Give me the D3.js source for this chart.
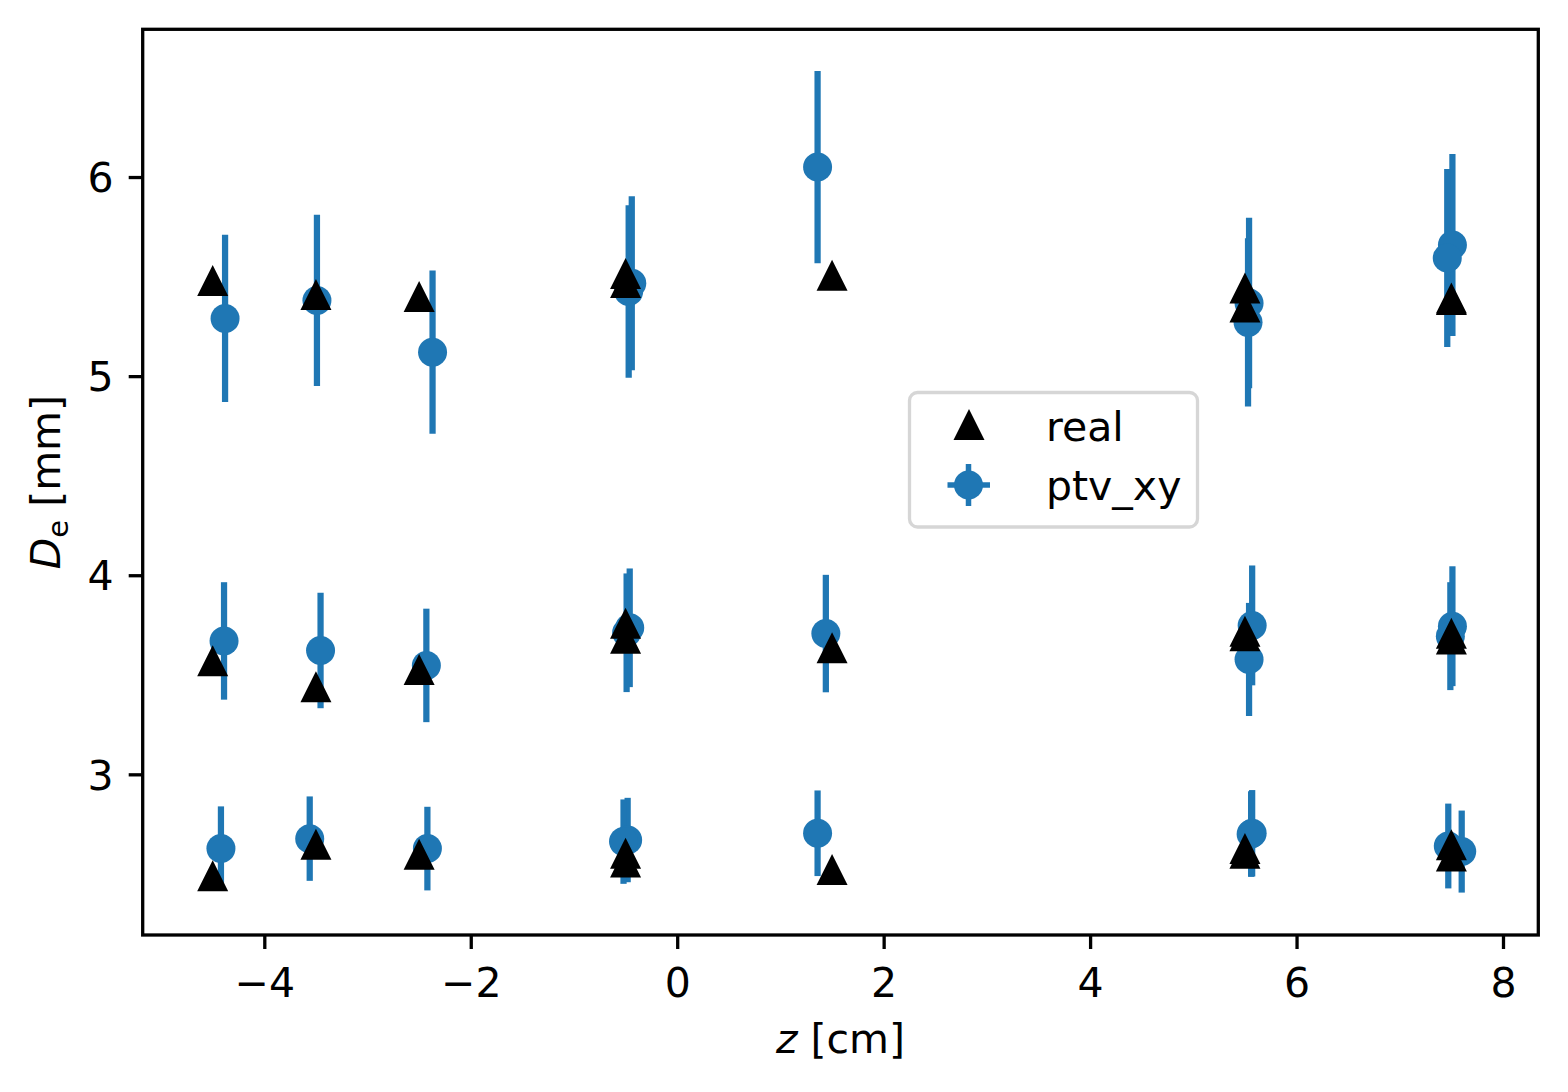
<!DOCTYPE html>
<html>
<head>
<meta charset="utf-8">
<script src="https://cdn.jsdelivr.net/npm/d3@7"></script>
<style>
  body { margin: 0; background: #fff; }
  text { font-family: "DejaVu Sans", sans-serif; }
</style>
</head>
<body>
<div id="chart"></div>
<script>
// real values (triangles), three size groups
const realZ = [-4.5, -3.5, -2.5, -0.5, -0.5, 1.5, 5.5, 5.5, 7.5, 7.5,
               -4.5, -3.5, -2.5, -0.5, -0.5, 1.5, 5.5, 5.5, 7.5, 7.5,
               -4.5, -3.5, -2.5, -0.5, -0.5, 1.5, 5.5, 5.5, 7.5, 7.5];
const realD = [5.48, 5.41, 5.40, 5.515, 5.47, 5.507, 5.443, 5.347, 5.392, 5.385,
               3.57, 3.44, 3.527, 3.759, 3.684, 3.636, 3.719, 3.696, 3.708, 3.68,
               2.49, 2.649, 2.599, 2.604, 2.56, 2.522, 2.628, 2.604, 2.646, 2.59];

// ptv_xy estimates with error
const ptvZ = [-4.38, -3.49, -2.37, -0.44, -0.47, 1.36, 5.54, 5.53, 7.51, 7.46,
              -4.39, -3.455, -2.43, -0.46, -0.49, 1.44, 5.57, 5.54, 7.51, 7.49,
              -4.42, -3.56, -2.42, -0.48, -0.52, 1.36, 5.57, 5.56, 7.47, 7.60];
const ptvD = [5.29, 5.38, 5.12, 5.467, 5.425, 6.05, 5.367, 5.27, 5.659, 5.593,
              3.67, 3.622, 3.547, 3.736, 3.711, 3.707, 3.748, 3.577, 3.744, 3.694,
              2.627, 2.677, 2.627, 2.67, 2.662, 2.704, 2.704, 2.70, 2.64, 2.612];
const ptvErr = [0.42, 0.43, 0.41, 0.437, 0.433, 0.483, 0.428, 0.422, 0.457, 0.447,
                0.295, 0.29, 0.285, 0.298, 0.298, 0.295, 0.301, 0.284, 0.301, 0.271,
                0.212, 0.212, 0.21, 0.212, 0.212, 0.215, 0.217, 0.215, 0.213, 0.206];

const xTicks = [-4, -2, 0, 2, 4, 6, 8];
const yTicks = [3, 4, 5, 6];

const W = 1568, H = 1092;
const margin = { top: 29.3, right: 29.7, bottom: 157, left: 142.7 };
const width = W - margin.left - margin.right;
const height = H - margin.top - margin.bottom;
const blue = "#1f77b4";
const fontSize = 41;

const svg = d3.select("#chart").append("svg")
    .attr("width", W)
    .attr("height", H);

const group = svg.append("g")
    .attr("transform", `translate(${margin.left},${margin.top})`);

const x = d3.scaleLinear().domain([-5.178, 8.342]).range([0, width]);
const y = d3.scaleLinear().domain([2.193, 6.742]).range([height, 0]);

const fmt = d => (d < 0 ? "\u2212" + Math.abs(d) : String(d));

// axes
const xAxis = group.append("g")
    .attr("transform", `translate(0,${height})`)
    .call(d3.axisBottom(x).tickValues(xTicks).tickFormat(fmt)
        .tickSize(14).tickSizeOuter(0).tickPadding(19));
const yAxis = group.append("g")
    .call(d3.axisLeft(y).tickValues(yTicks).tickFormat(fmt)
        .tickSize(14).tickSizeOuter(0).tickPadding(15));

[xAxis, yAxis].forEach(a => {
    a.select(".domain").remove();
    a.selectAll("line").attr("stroke", "#000").attr("stroke-width", 3.3);
    a.selectAll("text")
        .attr("fill", "#000")
        .style("font-family", "'DejaVu Sans', sans-serif")
        .style("font-size", fontSize + "px");
});
yAxis.selectAll("text").attr("dy", "0.36em");

// error bars
const pts = ptvZ.map((z, i) => ({ z: z, d: ptvD[i], e: ptvErr[i] }));
group.selectAll("line.err")
    .data(pts)
    .enter().append("line")
    .attr("class", "err")
    .attr("x1", d => x(d.z))
    .attr("x2", d => x(d.z))
    .attr("y1", d => y(d.d - d.e))
    .attr("y2", d => y(d.d + d.e))
    .attr("stroke", blue)
    .attr("stroke-width", 6.25);

group.selectAll("circle.ptv")
    .data(pts)
    .enter().append("circle")
    .attr("class", "ptv")
    .attr("cx", d => x(d.z))
    .attr("cy", d => y(d.d))
    .attr("r", 14.5)
    .attr("fill", blue);

// triangles
const tri = s => `M0,${-s}L${-s},${s}L${s},${s}Z`;
group.selectAll("path.real")
    .data(realZ.map((z, i) => ({ z: z, d: realD[i] })))
    .enter().append("path")
    .attr("class", "real")
    .attr("d", tri(15.5))
    .attr("transform", d => `translate(${x(d.z)},${y(d.d)})`)
    .attr("fill", "#000");

// frame
group.append("rect")
    .attr("width", width)
    .attr("height", height)
    .attr("fill", "none")
    .attr("stroke", "#000")
    .attr("stroke-width", 3.3);

// legend
const legend = svg.append("g");
legend.append("rect")
    .attr("x", 909.5).attr("y", 392.5)
    .attr("width", 288).attr("height", 134.5)
    .attr("rx", 8).attr("ry", 8)
    .attr("fill", "rgba(255,255,255,0.8)")
    .attr("stroke", "#d6d6d6")
    .attr("stroke-width", 3.3);
legend.append("path")
    .attr("d", tri(15.5))
    .attr("transform", "translate(969,424.5)")
    .attr("fill", "#000");
legend.append("line")
    .attr("x1", 947.5).attr("x2", 990).attr("y1", 485).attr("y2", 485)
    .attr("stroke", blue).attr("stroke-width", 5.5);
legend.append("line")
    .attr("x1", 968.5).attr("x2", 968.5).attr("y1", 464).attr("y2", 506)
    .attr("stroke", blue).attr("stroke-width", 5.5);
legend.append("circle")
    .attr("cx", 968.5).attr("cy", 485).attr("r", 14.5)
    .attr("fill", blue);
legend.append("text")
    .attr("x", 1046).attr("y", 441)
    .style("font-size", fontSize + "px")
    .text("real");
legend.append("text")
    .attr("x", 1046).attr("y", 500)
    .style("font-size", fontSize + "px")
    .text("ptv_xy");

// axis labels
const xl = svg.append("text")
    .attr("x", margin.left + width / 2)
    .attr("y", 1053)
    .attr("text-anchor", "middle")
    .style("font-size", fontSize + "px");
xl.append("tspan").style("font-style", "italic").text("z");
xl.append("tspan").text(" [cm]");

const yl = svg.append("text")
    .attr("transform", `translate(60,${margin.top + height / 2}) rotate(-90)`)
    .attr("text-anchor", "middle")
    .style("font-size", fontSize + "px");
yl.append("tspan").style("font-style", "italic").text("D");
yl.append("tspan").attr("dy", 8).style("font-size", "29px").text("e");
yl.append("tspan").attr("dy", -8).text(" [mm]");
</script>
</body>
</html>
